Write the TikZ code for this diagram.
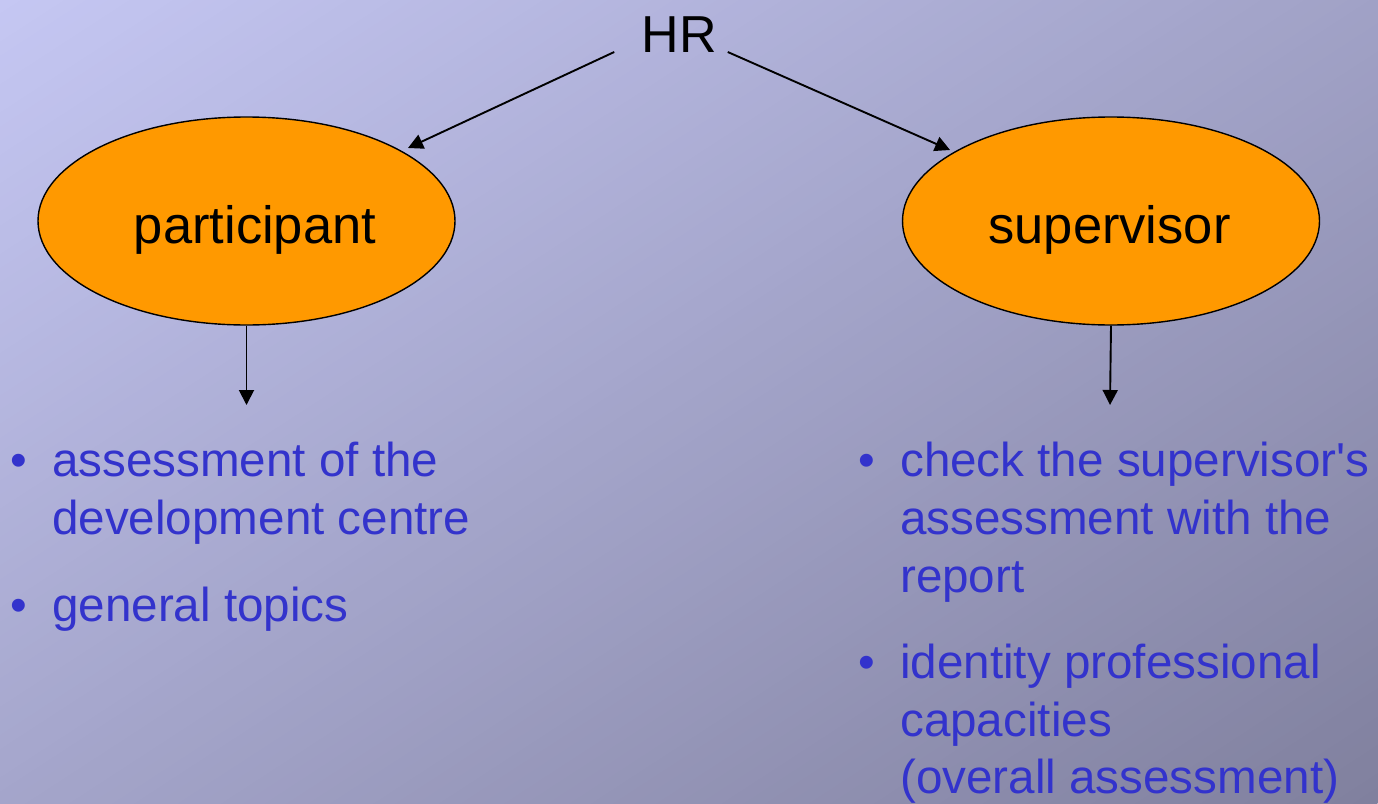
\documentclass[tikz,border=0pt]{standalone}
\usepackage{fontspec}
\setmainfont{Liberation Sans}
\usetikzlibrary{shapes.geometric,arrows.meta,calc}

\definecolor{bgtop}{RGB}{197,199,243}
\definecolor{bgbot}{RGB}{128,128,158}
\definecolor{bubble}{RGB}{255,153,0}
\definecolor{itemblue}{RGB}{51,51,204}

% lower a label inside its ellipse while keeping its natural box size
\newcommand{\droplabel}[1]{\raisebox{-9pt}[\height][\depth]{#1}}

\tikzset{
  role/.style={ellipse, draw=black, line width=1.4pt, fill=bubble,
    minimum width=417pt, minimum height=208pt, inner sep=0pt,
    font=\fontsize{52.5}{62}\selectfont},
  head/.style={inner sep=0pt, font=\fontsize{52}{62}\selectfont},
  link/.style={line width=1.9pt, -{Triangle[length=15pt,width=15pt]}},
  itemline/.style={anchor=base west, inner sep=0pt, text=itemblue,
    font=\fontsize{47.6}{57}\selectfont},
  dot/.style={anchor=base west, inner sep=0pt, text=itemblue,
    font=\fontsize{47.6}{57}\selectfont}
}

\begin{document}
\begin{tikzpicture}[x=1pt,y=-1pt]
  % diagonal linear gradient backdrop, built from thin strips
  % perpendicular to the direction u = (0.545, 0.838); 120 strips of 11.867
  \begin{scope}
    \clip (0,0) rectangle (1378,803);
    \foreach \i in {0,...,119}{
      \pgfmathsetmacro{\pa}{\i*11.867}
      \pgfmathsetmacro{\pb}{\i*11.867+12.9}
      \pgfmathsetmacro{\pct}{(\i+0.5)/1.2}
      \fill[bgbot!\pct!bgtop]
        ({\pa*0.545-1600*0.838},{\pa*0.838+1600*0.545}) --
        ({\pa*0.545+1600*0.838},{\pa*0.838-1600*0.545}) --
        ({\pb*0.545+1600*0.838},{\pb*0.838-1600*0.545}) --
        ({\pb*0.545-1600*0.838},{\pb*0.838+1600*0.545}) -- cycle;
    }
  \end{scope}
  \useasboundingbox (0,0) rectangle (1378,803);

  % roles
  \node[head, anchor=base] (hr) at (679,52) {HR};
  \node[role] (part) at (246.5,221) {\hspace*{17pt}\droplabel{participant}};
  \node[role] (sup) at (1111,221) {\droplabel{supervisor}\hspace*{3pt}};

  \draw[link] ($(hr.base west)+(-27,0)$) -- ($(part.center)+(161.5,-73)$);
  \draw[link] ($(hr.base east)+(11,0)$) -- ($(sup.center)+(-161,-71)$);

  \coordinate (pend) at (246.5,405);
  \coordinate (send) at (1110,405);
  \draw[link] (part.south) -- (pend);
  \draw[link] (sup.south) -- (send);

  % participant topics
  \node[dot] (pb1) at (10.5,476) {•};
  \node[itemline] (p1a) at (52,476) {assessment of the};
  \node[itemline] (p1b) at (52,534) {development centre};
  \node[dot] (pb2) at (10.5,621) {•};
  \node[itemline] (p2) at (52,621) {general topics};

  % supervisor topics
  \node[dot] (sb1) at (858.5,476) {•};
  \node[itemline] (s1a) at (900,476) {check the supervisor\textquotesingle s};
  \node[itemline] (s1b) at (900,534) {assessment with the};
  \node[itemline] (s1c) at (900,592) {report};
  \node[dot] (sb2) at (858.5,678) {•};
  \node[itemline] (s2a) at (900,678) {identity professional};
  \node[itemline] (s2b) at (900,736) {capacities};
  \node[itemline] (s2c) at (900,793) {(overall assessment)};
\end{tikzpicture}
\end{document}
